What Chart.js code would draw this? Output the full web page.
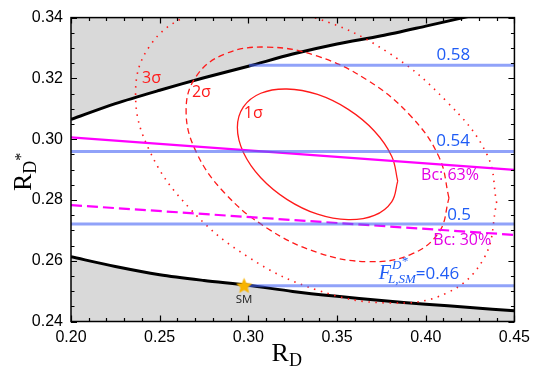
<!DOCTYPE html>
<html><head><meta charset="utf-8">
<script src="https://cdn.jsdelivr.net/npm/chart.js@4.4.1/dist/chart.umd.min.js"></script>
<style>html,body{margin:0;padding:0;background:#fff}</style>
</head><body>
<canvas id="c" width="536" height="371"></canvas>
<script>
// ---- data ----
const xRange = [0.20, 0.45];
const yRange = [0.24, 0.34];
const xTickLabels = [0.20, 0.25, 0.30, 0.35, 0.40, 0.45];
const yTickLabels = [0.24, 0.26, 0.28, 0.30, 0.32, 0.34];
const xMinorStep = 0.01;
const yMinorStep = 0.005;

// boundaries of the allowed region (grey outside)
const upperBoundX = [0.20, 0.225, 0.25, 0.275, 0.30, 0.325, 0.35, 0.375, 0.40, 0.425, 0.45];
const upperBoundY = [0.3065, 0.3117, 0.3161, 0.3202, 0.3240, 0.3280, 0.3313, 0.3340, 0.3372, 0.3405, 0.3440];
const lowerBoundX = [0.20, 0.225, 0.25, 0.275, 0.30, 0.325, 0.35, 0.375, 0.40, 0.425, 0.45];
const lowerBoundY = [0.2613, 0.2581, 0.2554, 0.2535, 0.2519, 0.2499, 0.2483, 0.2469, 0.2457, 0.2446, 0.2435];

// experimental contours
const sigma1X = [0.3842,0.3808,0.3710,0.3563,0.3390,0.3217,0.3070,0.2972,0.2938,0.2972,0.3070,0.3217,0.3390,0.3563,0.3710,0.3808,0.3842];
const sigma1Y = [0.2862,0.2944,0.3027,0.3098,0.3147,0.3165,0.3151,0.3106,0.3038,0.2956,0.2873,0.2802,0.2753,0.2735,0.2749,0.2794,0.2862];
const sigma2X = [0.4131,0.4075,0.3914,0.3674,0.3390,0.3106,0.2866,0.2705,0.2649,0.2705,0.2866,0.3106,0.3390,0.3674,0.3914,0.4075,0.4131];
const sigma2Y = [0.2806,0.2941,0.3077,0.3193,0.3273,0.3303,0.3280,0.3206,0.3094,0.2959,0.2823,0.2707,0.2627,0.2597,0.2620,0.2694,0.2806];
const sigma3X = [0.4400,0.4345,0.4116,0.3783,0.3390,0.2997,0.2665,0.2442,0.2364,0.2442,0.2665,0.2997,0.3390,0.3783,0.4116,0.4330,0.4400];
const sigma3Y = [0.2790,0.2950,0.3125,0.3287,0.3397,0.3439,0.3407,0.3305,0.3149,0.2963,0.2775,0.2613,0.2503,0.2461,0.2493,0.2610,0.2790];

// Bc branching-ratio bounds
const bc63X = [0.20, 0.45];
const bc63Y = [0.3006, 0.2899];
const bc30X = [0.20, 0.45];
const bc30Y = [0.2783, 0.2685];

// constant F_L^{D*} lines
const fl058X = [0.3004, 0.45]; const fl058Y = [0.3243, 0.3243];
const fl054X = [0.20, 0.45];   const fl054Y = [0.2959, 0.2959];
const fl050X = [0.20, 0.45];   const fl050Y = [0.2721, 0.2721];
const fl046X = [0.2976, 0.45]; const fl046Y = [0.2518, 0.2518];

// Standard Model point
const smX = [0.2976];
const smY = [0.2520];

// text annotations
const labelTexts = ['3σ', '2σ', '1σ', '0.58', '0.54', '0.5', 'Bc: 63%', 'Bc: 30%', 'SM'];
const labelX = [0.2454, 0.2735, 0.3028, 0.4156, 0.4154, 0.4188, 0.4137, 0.4206, 0.2976];
const labelY = [0.3201, 0.3155, 0.3084, 0.3276, 0.2993, 0.2750, 0.2882, 0.2666, 0.2472];

// ---- helpers ----
const pts = (xs, ys) => xs.map((v, i) => ({x: v, y: ys[i]}));
const RED = '#ff1a1a', MAG = '#ff00ff', MAGTXT = '#e400e4', BLUE = 'rgba(70,100,245,0.6)', BLUETXT = '#1f5cf5';
const labelColor = [RED, RED, RED, BLUETXT, BLUETXT, BLUETXT, MAGTXT, MAGTXT, '#222'];
const F16 = '16px "Open Sans"';
const labelFont = [F16, F16, F16, '17px "Open Sans"', '17px "Open Sans"', '17px "Open Sans"', F16, F16, '11.5px "Open Sans"'];

function makeStar(r){
  const s = Math.ceil(2*r + 2);
  const c = document.createElement('canvas'); c.width = s; c.height = s;
  const g = c.getContext('2d');
  g.beginPath();
  for (let i = 0; i < 10; i++){
    const a = -Math.PI/2 + i*Math.PI/5, rr = (i % 2) ? r*0.45 : r;
    g.lineTo(s/2 + rr*Math.cos(a), s/2 + 1.2 + rr*Math.sin(a));
  }
  g.closePath(); g.fillStyle = '#f8b400'; g.fill();
  return c;
}

const line = (data, color, width, dash, order, extra) => Object.assign({
  data, showLine: true, borderColor: color, borderWidth: width, borderDash: dash || [],
  pointRadius: 0, fill: false, tension: 0, order
}, extra || {});

const datasets = [
  line(pts(upperBoundX, upperBoundY), '#000', 3, null, 20, {fill: 'end', backgroundColor: '#d9d9d9', tension: 0.3}),
  line(pts(lowerBoundX, lowerBoundY), '#000', 3, null, 19, {fill: 'start', backgroundColor: '#d9d9d9', tension: 0.3}),
  line(pts(sigma3X, sigma3Y), RED, 1.6, [1.5, 5.5], 15, {tension: 0.4}),
  line(pts(sigma2X, sigma2Y), RED, 1.3, [6, 4], 14, {tension: 0.4}),
  line(pts(sigma1X, sigma1Y), RED, 1.3, null, 13, {tension: 0.4}),
  line(pts(bc63X, bc63Y), MAG, 2.2, null, 10),
  line(pts(bc30X, bc30Y), MAG, 2.2, [11, 5], 9),
  line(pts(fl058X, fl058Y), BLUE, 3, null, 5),
  line(pts(fl054X, fl054Y), BLUE, 3, null, 4),
  line(pts(fl050X, fl050Y), BLUE, 3, null, 3),
  line(pts(fl046X, fl046Y), BLUE, 3, null, 2),
  {data: pts(smX, smY), showLine: false, pointStyle: makeStar(8.5), pointRadius: 9, order: 0}
];

const deco = {
  id: 'deco',
  afterDatasetsDraw(chart){
    const {ctx, chartArea: a, scales: {x, y}} = chart;
    ctx.save();
    // frame
    ctx.strokeStyle = '#000'; ctx.lineWidth = 1.5;
    ctx.strokeRect(a.left, a.top, a.right - a.left, a.bottom - a.top);
    // inward ticks
    ctx.lineWidth = 1.2;
    ctx.beginPath();
    const nx = Math.round((xRange[1] - xRange[0]) / xMinorStep);
    for (let i = 0; i <= nx; i++){
      const px = Math.round(x.getPixelForValue(xRange[0] + i*xMinorStep)) + 0.5;
      const L = (i % 5 === 0) ? 6 : 3.5;
      ctx.moveTo(px, a.bottom); ctx.lineTo(px, a.bottom - L);
      ctx.moveTo(px, a.top); ctx.lineTo(px, a.top + L);
    }
    const ny = Math.round((yRange[1] - yRange[0]) / yMinorStep);
    for (let i = 0; i <= ny; i++){
      const py = Math.round(y.getPixelForValue(yRange[0] + i*yMinorStep)) + 0.5;
      const L = (i % 4 === 0) ? 6 : 3.5;
      ctx.moveTo(a.left, py); ctx.lineTo(a.left + L, py);
      ctx.moveTo(a.right, py); ctx.lineTo(a.right - L, py);
    }
    ctx.stroke();

    // annotations
    ctx.textAlign = 'center'; ctx.textBaseline = 'middle';
    labelTexts.forEach((t, i) => {
      ctx.font = labelFont[i]; ctx.fillStyle = labelColor[i];
      ctx.fillText(t, x.getPixelForValue(labelX[i]), y.getPixelForValue(labelY[i]));
    });

    // F_{L,SM}^{D*}=0.46
    ctx.textAlign = 'left'; ctx.textBaseline = 'alphabetic'; ctx.fillStyle = BLUETXT;
    let fx = x.getPixelForValue(0.3735), fy = y.getPixelForValue(0.2540);
    ctx.font = 'italic 20px "Liberation Serif"';
    ctx.fillText('F', fx, fy);
    const wF = ctx.measureText('F').width;
    ctx.font = 'italic 13px "Liberation Serif"';
    ctx.fillText('D', fx + wF + 1, fy - 10);
    const wD = ctx.measureText('D').width;
    ctx.fillText('*', fx + wF + 1 + wD, fy - 14);
    ctx.fillText('L,SM', fx + wF - 3, fy + 4);
    const wS = ctx.measureText('L,SM').width;
    ctx.font = '17px "Open Sans"';
    ctx.fillText('=0.46', fx + wF - 3 + wS, fy);

    // axis titles
    ctx.fillStyle = '#000';
    const cx = (a.left + a.right) / 2 - 6;
    ctx.font = '26px "Liberation Serif"';
    const wR = ctx.measureText('R').width;
    ctx.font = '18px "Liberation Serif"';
    const wDx = ctx.measureText('D').width;
    let sx = cx - (wR + wDx) / 2;
    ctx.font = '26px "Liberation Serif"';
    ctx.fillText('R', sx, 361);
    ctx.font = '18px "Liberation Serif"';
    ctx.fillText('D', sx + wR, 366);

    ctx.save();
    ctx.translate(31, 191);
    ctx.rotate(-Math.PI / 2);
    ctx.font = '26px "Liberation Serif"';
    ctx.fillText('R', 0, 0);
    ctx.font = '18px "Liberation Serif"';
    ctx.fillText('D', wR, 5);
    ctx.font = '16px "Liberation Serif"';
    ctx.fillText('*', wR + wDx, -5);
    ctx.restore();

    ctx.restore();
  }
};

new Chart(document.getElementById('c'), {
  type: 'scatter',
  data: {datasets},
  options: {
    responsive: false, animation: false, devicePixelRatio: 1,
    layout: {padding: {left: 0, right: 19, top: 12, bottom: 0}},
    plugins: {legend: {display: false}, tooltip: {enabled: false}},
    scales: {
      x: {
        type: 'linear', min: xRange[0], max: xRange[1],
        afterBuildTicks: s => { s.ticks = xTickLabels.map(v => ({value: v})); },
        afterFit: s => { s.height = 49.5; },
        grid: {display: false, drawTicks: false}, border: {display: false},
        ticks: {padding: 6, color: '#000', font: {family: '"Liberation Sans"', size: 16}, maxRotation: 0,
                callback: v => Number(v).toFixed(2)}
      },
      y: {
        type: 'linear', min: yRange[0], max: yRange[1],
        afterBuildTicks: s => { s.ticks = yTickLabels.map(v => ({value: v})); },
        afterFit: s => { s.width = 71; },
        grid: {display: false, drawTicks: false}, border: {display: false},
        ticks: {padding: 8, color: '#000', font: {family: '"Liberation Sans"', size: 16},
                callback: v => Number(v).toFixed(2)}
      }
    }
  },
  plugins: [deco]
});
</script>
</body></html>
